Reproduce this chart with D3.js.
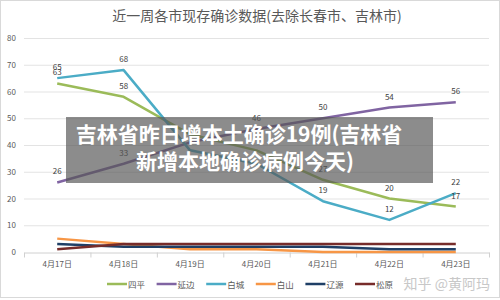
<!DOCTYPE html>
<html>
<head>
<meta charset="utf-8">
<script src="https://cdn.jsdelivr.net/npm/d3@7"></script>
<style>
  body { margin: 0; background: #fff; }
  svg { display: block; font-family: "Noto Sans CJK SC", "Noto Sans", sans-serif; }
</style>
</head>
<body>
<div id="chart"></div>
<script>
// data
const dates = ["4月17日", "4月18日", "4月19日", "4月20日", "4月21日", "4月22日", "4月23日"];
const cities = ["四平", "延边", "白城", "白山", "辽源", "松原"];
const siping = [63, 58, 44, 38, 27, 20, 17];
const yanbian = [26, 33, 41, 46, 50, 54, 56];
const baicheng = [65, 68, 38, 33, 19, 12, 22];
const baishan = [5, 3, 1, 1, 0, 0, 0];
const liaoyuan = [3, 2, 2, 2, 2, 1, 1];
const songyuan = [1, 3, 3, 3, 3, 3, 3];
const yTicks = [0, 10, 20, 30, 40, 50, 60, 70, 80];
const colors = ["#9bbb59", "#8064a2", "#4bacc6", "#f79646", "#1f3f66", "#772c2a"];
const labelled = [true, true, true, false, false, false];
// labels that sit under the banner text and can't be seen in the picture
const hiddenLabels = ["四平-4月19日", "四平-4月20日", "延边-4月19日", "白城-4月19日", "白城-4月20日"];

const series = [siping, yanbian, baicheng, baishan, liaoyuan, songyuan].map((vals, i) => ({
    name: cities[i], values: vals, color: colors[i], labels: labelled[i]
}));

const width = 500, height = 300;
const svg = d3.select("#chart").append("svg")
    .attr("width", width)
    .attr("height", height);

svg.append("rect")
    .attr("x", 0.5).attr("y", 0.5)
    .attr("width", width - 1).attr("height", height - 3)
    .attr("fill", "#fff").attr("stroke", "#d9d9d9");

const x = d3.scaleBand().domain(dates).range([24, 489]);
const y = d3.scaleLinear().domain([0, 80]).range([252, 38]);
const cx = d => x(d) + x.bandwidth() / 2;

// title
svg.append("text")
    .attr("x", 257).attr("y", 21)
    .attr("text-anchor", "middle")
    .attr("font-size", 14)
    .attr("fill", "#595959")
    .text("近一周各市现存确诊数据(去除长春市、吉林市)");

// gridlines + y labels
svg.append("g").selectAll("line")
    .data(yTicks.filter(t => t > 0))
    .join("line")
    .attr("x1", 24).attr("x2", 489)
    .attr("y1", d => y(d) + 0.5).attr("y2", d => y(d) + 0.5)
    .attr("stroke", "#e3e3e3");

svg.append("g").selectAll("text")
    .data(yTicks)
    .join("text")
    .attr("x", 16).attr("y", d => y(d) + 3)
    .attr("text-anchor", "end")
    .attr("font-size", 8)
    .attr("fill", "#595959")
    .text(d => d);

// x axis
const xAxis = d3.axisBottom(x).tickSize(0).tickPadding(9);
const gx = svg.append("g")
    .attr("transform", `translate(0,${y(0) + 0.5})`)
    .call(xAxis);
gx.select(".domain").attr("stroke", "#d0d0d0");
gx.selectAll("text").attr("font-size", 8).attr("fill", "#595959")
    .attr("font-family", "\"Noto Sans CJK SC\", sans-serif");
gx.selectAll(".sep")
    .data(d3.range(dates.length + 1))
    .join("line")
    .attr("class", "sep")
    .attr("x1", i => 24 + i * x.step() + 0.5)
    .attr("x2", i => 24 + i * x.step() + 0.5)
    .attr("y1", 0).attr("y2", 5)
    .attr("stroke", "#d0d0d0");

// lines
const line = d3.line()
    .x((d, i) => cx(dates[i]))
    .y(d => y(d));

svg.append("g").selectAll("path")
    .data(series)
    .join("path")
    .attr("d", d => line(d.values))
    .attr("fill", "none")
    .attr("stroke", d => d.color)
    .attr("stroke-width", 2.5)
    .attr("stroke-linejoin", "round");

// data labels
series.filter(s => s.labels).forEach(s => {
    const pts = s.values.map((v, i) => ({ v, date: dates[i] }))
        .filter(p => !hiddenLabels.includes(`${s.name}-${p.date}`));
    svg.append("g").selectAll("text")
        .data(pts)
        .join("text")
        .attr("x", p => cx(p.date))
        .attr("y", p => y(p.v) - 8)
        .attr("text-anchor", "middle")
        .attr("font-size", 8)
        .attr("fill", "#404040")
        .text(p => p.v);
});

// legend
const legend = svg.append("g").selectAll("g")
    .data(series)
    .join("g")
    .attr("transform", (d, i) => `translate(${107 + i * 49.6},284)`);
legend.append("line")
    .attr("x1", 0).attr("x2", 20)
    .attr("stroke", d => d.color)
    .attr("stroke-width", 2.5);
legend.append("text")
    .attr("x", 21).attr("y", 3.5)
    .attr("font-size", 8.5)
    .attr("fill", "#595959")
    .text(d => d.name);

// watermark
svg.append("text")
    .attr("x", 490).attr("y", 289)
    .attr("text-anchor", "end")
    .attr("font-size", 14)
    .attr("fill", "#c8c8c8")
    .text("知乎 @黄阿玛");

// overlay banner
svg.append("rect")
    .attr("x", 66).attr("y", 117)
    .attr("width", 367).attr("height", 66)
    .attr("fill", "rgba(85,85,85,0.68)");
svg.append("text")
    .attr("x", 239).attr("y", 142)
    .attr("text-anchor", "middle")
    .attr("font-size", 21)
    .attr("font-weight", "bold")
    .attr("fill", "#fff")
    .text("吉林省昨日增本土确诊19例(吉林省");
svg.append("text")
    .attr("x", 245).attr("y", 169)
    .attr("text-anchor", "middle")
    .attr("font-size", 21)
    .attr("font-weight", "bold")
    .attr("fill", "#fff")
    .text("新增本地确诊病例今天)");
</script>
</body>
</html>
